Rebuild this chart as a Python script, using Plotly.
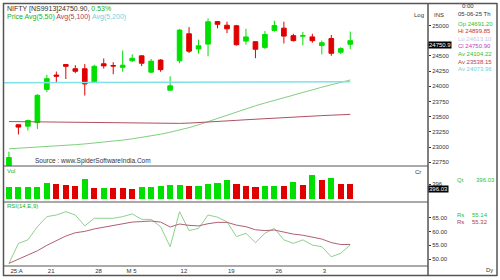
import plotly.graph_objects as go

W, H = 500, 280

# ---------------- data ----------------
dates = ["2025-04-11", "2025-04-15", "2025-04-16", "2025-04-17", "2025-04-21", "2025-04-22",
         "2025-04-23", "2025-04-24", "2025-04-25", "2025-04-28", "2025-04-29", "2025-04-30",
         "2025-05-02", "2025-05-05", "2025-05-06", "2025-05-07", "2025-05-08", "2025-05-09",
         "2025-05-12", "2025-05-13", "2025-05-14", "2025-05-15", "2025-05-16", "2025-05-19",
         "2025-05-20", "2025-05-21", "2025-05-22", "2025-05-23", "2025-05-26", "2025-05-27",
         "2025-05-28", "2025-05-29", "2025-05-30", "2025-06-02", "2025-06-03", "2025-06-04",
         "2025-06-05"]
opens = [22695, 23368, 23344, 23402, 23949, 24185, 24358, 24289, 24289, 24070, 24371, 24342,
         24312, 24420, 24501, 24233, 24432, 23936, 24420, 24864, 24614, 24694, 25065, 25005,
         24996, 24744, 24734, 24640, 24919, 24957, 24833, 24825, 24813, 24670, 24786, 24560,
         24691.2]
highs = [22924, 23368, 23452, 23872, 24190, 24243, 24359, 24348, 24365, 24355, 24458, 24396,
         24589, 24526, 24510, 24450, 24447, 24164, 24945, 24974, 24768, 25116, 25070, 25063,
         25010, 24946, 24738, 24909, 25079, 25063, 24864, 24893, 24864, 24754, 24845, 24644,
         24899.85]
lows = [22695, 23208, 23273, 23299, 23904, 24072, 24120, 24216, 23848, 24054, 24291, 24199,
        24239, 24401, 24332, 24220, 24239, 23936, 24379, 24548, 24536, 24494, 24953, 24875,
        24670, 24685, 24462, 24614, 24901, 24704, 24737, 24677, 24717, 24526, 24502, 24530,
        24613.1]
closes = [22829, 23329, 23437, 23852, 24126, 24167, 24329, 24247, 24039, 24329, 24336, 24334,
          24347, 24461, 24380, 24414, 24274, 24008, 24925, 24578, 24667, 25062, 25020, 24945,
          24684, 24813, 24610, 24853, 25001, 24826, 24752, 24834, 24751, 24717, 24543, 24620,
          24750.9]
ma50 = [22972, 22980, 22988, 22996, 23005, 23015, 23026, 23040, 23052, 23065, 23080, 23098,
        23115, 23136, 23160, 23185, 23212, 23245, 23280, 23320, 23367, 23420, 23470, 23520,
        23575, 23625, 23680, 23725, 23770, 23815, 23858, 23900, 23940, 23985, 24025, 24065,
        24104.22]
ma100 = [23420, 23418, 23415, 23412, 23410, 23407, 23405, 23402, 23400, 23398, 23396, 23394,
         23392, 23390, 23389, 23388, 23388, 23388, 23390, 23395, 23402, 23410, 23420, 23430,
         23440, 23450, 23460, 23470, 23478, 23486, 23494, 23502, 23510, 23518, 23525, 23532,
         23538.15]
ma200 = [24058, 24058, 24059, 24059, 24060, 24060, 24061, 24061, 24062, 24062, 24062, 24063,
         24063, 24064, 24064, 24065, 24065, 24066, 24066, 24067, 24067, 24068, 24068, 24069,
         24069, 24070, 24070, 24071, 24071, 24072, 24072, 24072, 24073, 24073, 24073, 24074,
         24073.96]
volume = [326, 326, 326, 326, 430, 389, 370, 352, 518, 285, 285, 285, 285, 259, 311, 311, 344,
          370, 370, 344, 344, 396, 430, 500, 396, 344, 311, 344, 344, 344, 456, 363, 629, 500,
          544, 396, 396.03]
vol_up = [1, 1, 1, 1, 1, 0, 0, 0, 1, 0, 1, 0, 0, 0, 1, 1, 1, 1, 1, 0, 1, 1, 1, 1, 0, 0, 0, 1,
          1, 0, 1, 0, 1, 0, 1, 0, 0]
rsi = [48.4, 55.7, 57.0, 61.8, 65.5, 66.1, 67.3, 66.1, 62.1, 64.9, 64.9, 64.9, 65.5, 66.5,
       64.5, 64.5, 61.8, 54.5, 67.3, 60.4, 61.2, 66.1, 65.3, 63.6, 58.2, 59.4, 56.0, 59.4,
       61.2, 57.0, 55.7, 57.0, 55.1, 54.5, 50.8, 52.1, 55.14]
rsi_signal = [48.4, 49.9, 51.3, 53.0, 55.0, 56.8, 58.4, 59.6, 60.1, 61.0, 61.6, 62.1, 62.8,
              63.5, 63.7, 63.9, 63.5, 61.7, 62.8, 62.3, 62.1, 62.9, 63.4, 63.4, 62.4, 61.8,
              60.7, 60.4, 60.6, 59.9, 59.1, 58.7, 57.9, 57.3, 56.0, 55.3, 55.32]
date_tick_index = [0, 4, 9, 13, 18, 23, 28, 33]
date_tick_text = ["25:A", "21", "28", "M 5", "12", "19", "26", "3"]
# 24750 is hidden behind the last-price box in the reference
price_ticks = [22750, 23000, 23250, 23500, 23750, 24000, 24250, 24500, 25000]
vol_ticks = [396]
rsi_ticks = [50, 55, 60, 65]

# ---------------- styling ----------------
GREEN = "#00e000"
RED = "#e00000"
FONT = "Liberation Sans"
TXT = "#333333"

n = len(closes)
xs = list(range(n))


def px(x):
    return x / W


def py(y):
    return 1 - y / H


def char_w(s):
    return 3.4 * len(s)


# label centres: day number left-aligned just right of the tick
tick_pos = []
for i, t in zip(date_tick_index, date_tick_text):
    if " " in t:
        pre, day = t.rsplit(" ", 1)
        pre += " "
    else:
        pre, day = "", t
    centre_px = 1 + (char_w(day) - char_w(pre)) / 2
    tick_pos.append(i + centre_px / 9.58)

fig = go.Figure()

fig.add_trace(go.Candlestick(
    x=xs, open=opens, high=highs, low=lows, close=closes,
    increasing=dict(line=dict(color=GREEN, width=1), fillcolor=GREEN),
    decreasing=dict(line=dict(color=RED, width=1), fillcolor=RED),
    whiskerwidth=0, xaxis="x", yaxis="y", showlegend=False, hoverinfo="skip"))

fig.add_trace(go.Scatter(x=xs, y=ma50, mode="lines", line=dict(color="#7fd07f", width=1),
                         xaxis="x", yaxis="y", showlegend=False, hoverinfo="skip"))
fig.add_trace(go.Scatter(x=xs, y=ma100, mode="lines", line=dict(color="#b05060", width=1),
                         xaxis="x", yaxis="y", showlegend=False, hoverinfo="skip"))
fig.add_trace(go.Scatter(x=[-0.5] + xs, y=[ma200[0]] + ma200, mode="lines",
                         line=dict(color="#80e0e8", width=1.5),
                         xaxis="x", yaxis="y", showlegend=False, hoverinfo="skip"))

fig.add_trace(go.Bar(x=xs, y=volume, marker=dict(color=[GREEN if u else RED for u in vol_up],
                                                 line=dict(width=0)),
                     width=0.65, xaxis="x2", yaxis="y2", showlegend=False, hoverinfo="skip"))

fig.add_trace(go.Scatter(x=xs, y=rsi, mode="lines", line=dict(color="#8fd08f", width=1),
                         xaxis="x3", yaxis="y3", showlegend=False, hoverinfo="skip"))
fig.add_trace(go.Scatter(x=xs, y=rsi_signal, mode="lines", line=dict(color="#b06070", width=1),
                         xaxis="x3", yaxis="y3", showlegend=False, hoverinfo="skip"))

XL, XR = 4, 428
xdom = [px(XL), px(XR)]
xrange_ = [-0.52, 44.2]
tickfont = dict(family=FONT, size=6, color=TXT)

common_x = dict(domain=xdom, range=xrange_, showgrid=False, zeroline=False,
                showline=False, fixedrange=True)
fig.update_layout(
    width=W, height=H, margin=dict(l=0, r=0, t=0, b=0),
    paper_bgcolor="white", plot_bgcolor="white",
    bargap=0,
    xaxis=dict(**common_x, anchor="y", showticklabels=False, rangeslider=dict(visible=False)),
    yaxis=dict(domain=[py(166), py(4)], range=[22689, 25354], side="right",
               tickvals=price_ticks, ticktext=[str(v) for v in price_ticks],
               ticks="outside", ticklen=2, tickcolor=TXT,
               tickfont=tickfont, showgrid=False, zeroline=False, anchor="x"),
    xaxis2=dict(**common_x, anchor="y2", showticklabels=False),
    yaxis2=dict(domain=[py(202), py(166)], range=[-70, 862], side="right",
                tickvals=vol_ticks, ticktext=[str(v) for v in vol_ticks],
                ticks="outside", ticklen=2, tickcolor=TXT,
                tickfont=tickfont, showgrid=False, zeroline=False, anchor="x2"),
    xaxis3=dict(**common_x, anchor="y3", tickvals=tick_pos, ticktext=date_tick_text,
                ticks="", tickfont=dict(family=FONT, size=6, color=TXT)),
    yaxis3=dict(domain=[py(266), py(202)], range=[47.44, 70.85], side="right",
                tickvals=rsi_ticks, ticktext=[f"{v:.2f}" for v in rsi_ticks],
                ticks="outside", ticklen=2, tickcolor=TXT,
                tickfont=tickfont, showgrid=False, zeroline=False, anchor="x3"),
)

# ---------------- frame lines ----------------
LC = "#555555"
shapes = []


def hline(y, x0, x1, w=1, c=LC):
    shapes.append(dict(type="line", xref="paper", yref="paper", x0=px(x0), x1=px(x1),
                       y0=py(y), y1=py(y), line=dict(color=c, width=w)))


def vline(x, y0, y1, w=1, c=LC):
    shapes.append(dict(type="line", xref="paper", yref="paper", x0=px(x), x1=px(x),
                       y0=py(y0), y1=py(y1), line=dict(color=c, width=w)))


hline(3.5, 3, 497, 1.5)
hline(275.5, 3, 497, 1.5)
vline(3.5, 3, 276, 1.5)
vline(497, 3, 276, 1.5)
vline(428, 3, 276, 1.5)
hline(166, 4, 428)
hline(202, 4, 428)
hline(266, 4, 428)
fig.update_layout(shapes=shapes)

# ---------------- texts ----------------
ann = []


def text(x, y, s, color=TXT, size=6.5, anchor="left"):
    ann.append(dict(x=px(x), y=py(y), xref="paper", yref="paper", text=s, showarrow=False,
                    xanchor=anchor, yanchor="middle", font=dict(family=FONT, size=size, color=color)))


pct = (closes[-1] - closes[-2]) / closes[-2] * 100
text(5, 8.5, f"NIFTY [NS9913]{closes[-1]:.2f}, <span style='color:#20b020'>{pct:.2f}%</span>",
     size=7)
text(5, 16.5, "<span style='color:#20b020'>Price Avg(5,50)</span> "
     "<span style='color:#b04050'>Avg(5,100)</span> "
     "<span style='color:#70d0e0'>Avg(5,200)</span>", size=7)
text(33, 161, "Source : www.SpiderSoftwareIndia.Com", size=6.5)
text(5, 171, "Vol", color="#20b020", size=6)
text(5, 206, "RSI(14,E,9)", color="#20b020", size=6)
text(426, 15, "Log", size=6, anchor="right")
text(432, 15, "INS", size=6)
text(468, 6, "0:00", size=6, anchor="center")
text(456, 14, "05-06-25 Th", size=6)
info = [("Op", opens[-1], "#30c030"), ("Hi", highs[-1], "#d03030"), ("Lo", lows[-1], "#c8c8e0"),
        ("Cl", closes[-1], "#c040c0"), ("Av", ma50[-1], "#30c030"), ("Av", ma100[-1], "#b04050"),
        ("Av", ma200[-1], "#70d0e0")]
for k, (lab, v, c) in enumerate(info):
    text(456, 23.5 + k * 7.6, f"{lab} {v:.2f}", color=c, size=6)
text(418, 172, "Cr", size=6, anchor="center")
text(455, 180, "Qt", color="#30c030", size=6)
text(474, 180, f"{volume[-1]:.2f}", color="#30c030", size=6)
text(455, 215, "Rs", color="#30c030", size=6)
text(470, 215, f"{rsi[-1]:.2f}", color="#30c030", size=6)
text(455, 222, "Rs", color="#b04050", size=6)
text(470, 222, f"{rsi_signal[-1]:.2f}", color="#b04050", size=6)
text(495, 270, "Dy", size=6, anchor="right")

# last-value boxes on the axes
ann.append(dict(x=px(428), y=closes[-1], xref="paper", yref="y", text="24750.9", showarrow=False,
                xanchor="left", yanchor="top", bgcolor="black", borderpad=0,
                font=dict(family=FONT, size=6, color="white")))
ann.append(dict(x=px(428), y=volume[-1], xref="paper", yref="y2", text=f"{volume[-1]:.2f}",
                showarrow=False, xanchor="left", yanchor="top", bgcolor="black", borderpad=0,
                yshift=-1, font=dict(family=FONT, size=6, color="white")))
fig.update_layout(annotations=ann)

fig.write_html("out.html")
